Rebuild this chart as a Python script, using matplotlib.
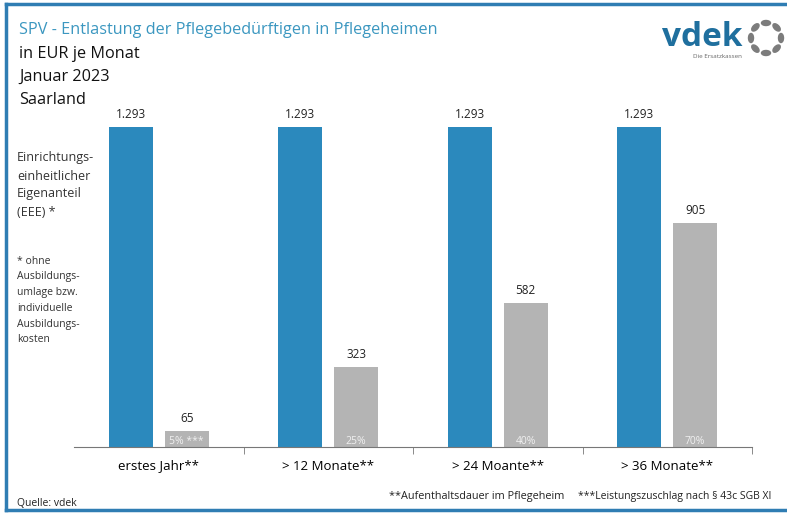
import numpy as np
import matplotlib.pyplot as plt
from matplotlib.patches import Ellipse

categories = ['erstes Jahr**', '> 12 Monate**', '> 24 Moante**', '> 36 Monate**']
eee = [1293, 1293, 1293, 1293]
entlastung = [65, 323, 582, 905]
zuschlag = ['5% ***', '25%', '40%', '70%']

blue = '#2b89bd'
grey = '#b4b4b4'
font = 'Open Sans'

plt.rcParams['font.family'] = [font, 'DejaVu Sans']

fig = plt.figure(figsize=(7.87, 5.13), dpi=100)
W, H = 787, 513

ax = fig.add_axes([74 / W, 66 / H, (752 - 74) / W, 0.675])
ax.patch.set_visible(False)
x = np.arange(len(categories))
w = 0.26
off = 0.165
b1 = ax.bar(x - off, eee, w, color=blue)
b2 = ax.bar(x + off, entlastung, w, color=grey)

for rect, v in zip(b1, eee):
    ax.text(rect.get_x() + w / 2, v + 25, f'{v:,}'.replace(',', '.'),
            ha='center', va='bottom', fontsize=8.5, color='#222222')
for rect, v, z in zip(b2, entlastung, zuschlag):
    ax.text(rect.get_x() + w / 2, v + 25, str(v),
            ha='center', va='bottom', fontsize=8.5, color='#222222')
    ax.text(rect.get_x() + w / 2, 22, z, ha='center', va='center',
            fontsize=7.5, color='#f0f0f0')

ax.set_xlim(-0.5, len(categories) - 0.5)
ax.set_ylim(0, 1400)
ax.set_yticks([])
ax.set_xticks(x)
ax.set_xticklabels(categories, fontsize=9.5)
ax.tick_params(axis='x', which='major', length=0, pad=9)
ax.set_xticks(np.arange(len(categories)) + 0.5, minor=True)
ax.tick_params(axis='x', which='minor', length=5, color='#777777', direction='out')
for s in ['top', 'right', 'left']:
    ax.spines[s].set_visible(False)
ax.spines['bottom'].set_color('#777777')

# overlay in pixel coordinates for headings, notes and logo
ov = fig.add_axes([0, 0, 1, 1], zorder=-1)
ov.set_xlim(0, W)
ov.set_ylim(H, 0)
ov.axis('off')

frame = '#2f7db3'
ov.plot([6, 787], [4, 4], color=frame, lw=2.5)
ov.plot([6, 6], [4, 510], color=frame, lw=2.5)
ov.plot([6, 787], [510, 510], color=frame, lw=2.5)

ov.text(19, 30, 'SPV - Entlastung der Pflegebedürftigen in Pflegeheimen',
        fontsize=11.7, color='#3b97c0', va='center')
ov.text(19, 54, 'in EUR je Monat', fontsize=11.7, va='center', color='#111111')
ov.text(19, 77, 'Januar 2023', fontsize=11.7, va='center', color='#111111')
ov.text(19, 100, 'Saarland', fontsize=11.7, va='center', color='#111111')

for i, line in enumerate(['Einrichtungs-', 'einheitlicher', 'Eigenanteil', '(EEE) *']):
    ov.text(17, 158 + i * 18, line, fontsize=9, va='center', color='#333333')
for i, line in enumerate(['* ohne', 'Ausbildungs-', 'umlage bzw.', 'individuelle',
                          'Ausbildungs-', 'kosten']):
    ov.text(17, 261 + i * 15.8, line, fontsize=7.5, va='center', color='#333333')

ov.text(17, 503, 'Quelle: vdek', fontsize=7.5, va='center', color='#222222')
ov.text(389, 497, '**Aufenthaltsdauer im Pflegeheim', fontsize=7.8, va='center',
        color='#222222')
ov.text(578, 497, '***Leistungszuschlag nach § 43c SGB XI', fontsize=7.5,
        va='center', color='#222222')

# vdek logo
ov.text(743, 38, 'vdek', fontsize=24, fontweight='bold', color='#1f6f9e',
        ha='right', va='center')
ov.text(742, 57, 'Die Ersatzkassen', fontsize=4.5, color='#666666', ha='right',
        va='center')
cx, cy, r = 766, 38, 15
for k in range(8):
    a = np.deg2rad(90 + k * 45)
    ov.add_patch(Ellipse((cx + r * np.cos(a), cy - r * np.sin(a)), 9, 5,
                         angle=-(np.rad2deg(a) + 90), color='#7c7c7c'))

fig.savefig('out.png', dpi=100)
